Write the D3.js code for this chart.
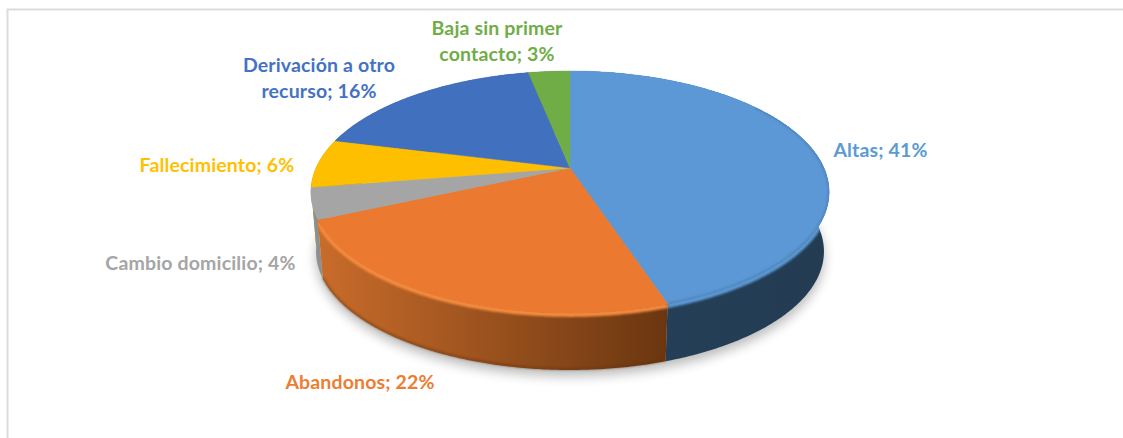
<!DOCTYPE html>
<html><head><meta charset="utf-8">
<script src="https://cdn.jsdelivr.net/npm/d3@7/dist/d3.min.js"></script>
<style>html,body{margin:0;padding:0;background:#fff}svg{display:block}</style>
</head><body><svg id="c" width="1123" height="438"></svg>
<script>
const categories = ["Altas","Abandonos","Cambio domicilio","Fallecimiento","Derivación a otro recurso","Baja sin primer contacto"];
const shares = [41.4,21.5,3.8,6.0,16.5,2.9];
const labelLines = [["Altas; 41%"],["Abandonos; 22%"],["Cambio domicilio; 4%"],["Fallecimiento; 6%"],["Derivación a otro","recurso; 16%"],["Baja sin primer","contacto; 3%"]];

const colors = ["#5b98d5","#eb7a30","#a5a5a5","#fdbf00","#4170bf","#70ad47"];
const labelColors = ["#5b9bd5","#ed7d31","#a5a5a5","#ffc000","#4472c4","#70ad47"];
const sideFrom = ["#25405a","#c96c2b","#8f8f8f","#b08500","#2c4e85","#4d7731"];
const sideTo   = ["#233c52","#6a3610","#8f8f8f","#b08500","#2c4e85","#4d7731"];
const labelAnchor = [[880.5,150.5],[360,382.5],[200.5,263.5],[217,165.5],[319,65.5],[497,28.5]];
const wallOrder = [5,4,3,2,0,1];
const lineGap = 26;

const svg = d3.select("#c");
const apex = [570,168], persp = -0.198, ax = 254, ay = 116.2, depth = 60, shrink = 0.98;

// perspective projection of a point on the unit disc, clockwise angle from 12 o'clock
function proj(t, r, lower){
  const x = r*Math.sin(t), y = -r*Math.cos(t), w = 1 + persp*y;
  const k = lower ? shrink : 1;
  return [apex[0] + k*ax*x/w, apex[1] + (lower?depth:0) + k*ay*y/w];
}
const arcPts = (a0,a1,lower) => {
  const n = Math.max(2, Math.ceil((a1-a0)/0.01));
  return d3.range(n+1).map(i => proj(a0+(a1-a0)*i/n,1,lower));
};
const line = d3.line();
const arcs = d3.pie().sort(null).value(d=>d)(shares);
const wallPath = d => line(arcPts(d.startAngle,d.endAngle,false).concat(arcPts(d.startAngle,d.endAngle,true).reverse()))+"Z";
const facePath = d => line([apex].concat(arcPts(d.startAngle,d.endAngle,false)))+"Z";

const defs = svg.append("defs");
defs.append("filter").attr("id","shadow").attr("x","-20%").attr("y","-20%").attr("width","140%").attr("height","140%")
  .append("feGaussianBlur").attr("stdDeviation",6);
defs.append("filter").attr("id","soft").attr("x","-5%").attr("y","-5%").attr("width","110%").attr("height","110%")
  .append("feGaussianBlur").attr("stdDeviation",1.3);
arcs.forEach((d,i)=>{
  const xs = arcPts(d.startAngle,d.endAngle,false).map(p=>p[0]);
  const g = defs.append("linearGradient").attr("id","side"+i).attr("gradientUnits","userSpaceOnUse")
    .attr("x1",d3.min(xs)).attr("x2",d3.max(xs)).attr("y1",0).attr("y2",0);
  g.append("stop").attr("offset",0).attr("stop-color",sideFrom[i]);
  g.append("stop").attr("offset",1).attr("stop-color",sideTo[i]);
});

// chart frame
svg.append("path").attr("d","M7.5,438V9.5H1123").attr("fill","none").attr("stroke","#dcdcdc").attr("stroke-width",2);

// soft floor shadow
const full = arcPts(0,2*Math.PI,true).map(p=>[p[0],p[1]+6]);
svg.append("path").attr("d",line(full)+"Z").attr("fill","#000").attr("opacity",0.27).attr("filter","url(#shadow)");

// side walls, back to front
svg.append("g").selectAll("path").data(wallOrder).join("path")
  .attr("d",i=>wallPath(arcs[i])).attr("fill",i=>`url(#side${i})`);

// darker rim along the bottom of the orange wall
svg.append("path").datum(arcs[1])
  .attr("d",d=>line(arcPts(d.startAngle,d.endAngle,true).map(p=>[p[0],p[1]-1])))
  .attr("fill","none").attr("stroke","#5f300e").attr("stroke-width",2).attr("opacity",0.55).attr("filter","url(#soft)");

// bevel between wall and top, only on the walls that face the viewer
const clip = defs.append("clipPath").attr("id","walls");
[0,1].forEach(i=>clip.append("path").attr("d",wallPath(arcs[i])));
svg.append("g").attr("clip-path","url(#walls)").selectAll("path").data([0,1]).join("path")
  .attr("d",i=>line(arcPts(arcs[i].startAngle,arcs[i].endAngle,false).map(p=>[p[0],p[1]+1.5])))
  .attr("fill","none")
  .attr("stroke",i=>i===1?"#f58a3e":colors[i])
  .attr("stroke-width",5).attr("filter","url(#soft)");

// top faces
svg.append("g").selectAll("path").data(arcs).join("path")
  .attr("d",facePath)
  .attr("fill",(d,i)=>colors[i])
  .attr("stroke",(d,i)=>colors[i]).attr("stroke-width",0.4);

// darker blurred lip inside the blue top edge
const lipClip = defs.append("clipPath").attr("id","blueFace");
lipClip.append("path").attr("d",facePath(arcs[0]));
const lipRange = [0.95, arcs[0].endAngle];
svg.append("g").attr("clip-path","url(#blueFace)").append("path")
  .attr("d",line(arcPts(lipRange[0],lipRange[1],false)))
  .attr("fill","none").attr("stroke","#3a6489").attr("stroke-width",1.8).attr("opacity",0.5).attr("filter","url(#soft)");

// labels
const lab = svg.append("g").attr("font-family","Lato, sans-serif").attr("font-weight",700)
  .attr("font-size",19.5).attr("letter-spacing",0.15).attr("text-anchor","middle");
labelLines.forEach((lines,i)=>{
  lines.forEach((s,j)=>{
    lab.append("text").attr("x",labelAnchor[i][0]).attr("y",labelAnchor[i][1]+j*lineGap)
      .attr("dy","0.35em").attr("fill",labelColors[i]).text(s);
  });
});
</script></body></html>
